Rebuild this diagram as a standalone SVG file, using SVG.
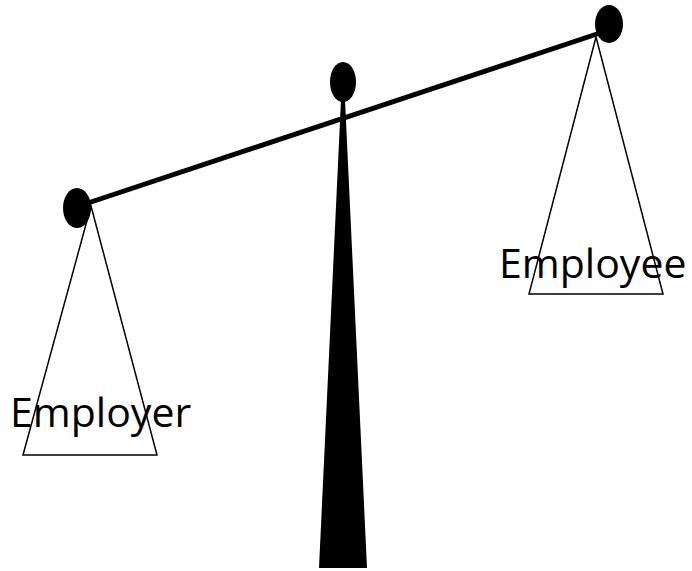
<svg xmlns="http://www.w3.org/2000/svg" width="692" height="571" viewBox="0 0 692 571">
<style>
.pan{fill:none;stroke:#000;stroke-width:1.5;stroke-linejoin:miter}
.knob{fill:#000}
.lbl{font-family:"Open Sans","Liberation Sans",sans-serif;font-size:41px;fill:#000}
</style>
<rect width="692" height="571" fill="#fff"/>
<g id="fulcrum">
<polygon points="341,100 345,100 367,568 319,568" fill="#000"/>
<ellipse class="knob" cx="343" cy="82" rx="13" ry="20"/>
</g>
<g id="connectors">
<line id="beam" x1="88" y1="203" x2="603" y2="32" stroke="#000" stroke-width="5" stroke-linecap="round"/>
</g>
<g id="employer">
<text class="lbl" x="10" y="427">Employer</text>
<polygon class="pan" points="91,206 23,455 157,455"/>
<ellipse class="knob" cx="77" cy="208" rx="14" ry="20"/>
</g>
<g id="employee">
<text class="lbl" x="499" y="278">Employee</text>
<polygon class="pan" points="596,37 529,294 663,294"/>
<ellipse class="knob" cx="609" cy="24" rx="14" ry="19"/>
</g>
</svg>
